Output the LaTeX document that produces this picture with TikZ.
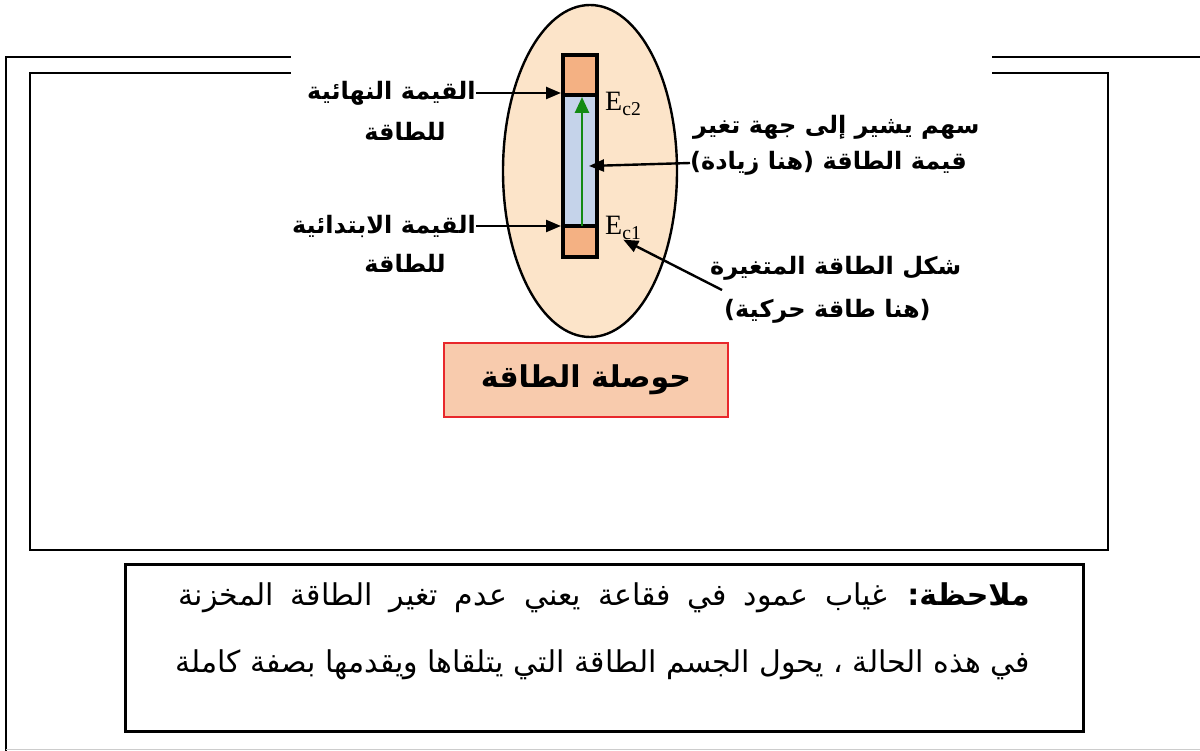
\documentclass[tikz,border=0pt]{standalone}
\usepackage{fontspec}
\setmainfont{Liberation Serif}
\newfontfamily\ar[Script=Arabic]{DejaVu Sans}
\TeXXeTstate=1
\usetikzlibrary{arrows.meta,shapes.geometric}
\definecolor{peach}{HTML}{FCE4C9}
\definecolor{barorange}{HTML}{F4B183}
\definecolor{barblue}{HTML}{C5D3EA}
\definecolor{darrow}{HTML}{138A13}
\definecolor{sumfill}{HTML}{F8CBAD}
\definecolor{sumred}{HTML}{E8282C}
\tikzset{
  frame/.style={line width=2.8pt, line cap=rect},
  lab/.style={font=\ar\bfseries\fontsize{24}{28}\selectfont, inner sep=0pt},
  notetxt/.style={font=\ar\fontsize{30}{34}\selectfont, inner sep=0pt, anchor=east},
  barpart/.style={draw=black, line width=4pt, minimum width=34pt, inner sep=0pt},
  blk/.style={line width=2.4pt, -{Triangle[length=15pt,width=12pt]}},
  elab/.style={font=\fontsize{28}{32}\selectfont, inner sep=0pt}
}
\begin{document}
\begin{tikzpicture}[x=1pt,y=-1pt]
\useasboundingbox (0,0) rectangle (1200,751);
% frames
\draw[frame] (290,57) -- (6,57) -- (6,760);
\draw[frame] (993,57) -- (1210,57);
\draw[frame] (290,73) -- (30,73) -- (30,550) -- (1108,550) -- (1108,73) -- (993,73);
\draw[gray!40, line width=1pt] (6,749) -- (1200,749);
% ellipse
\node[ellipse, draw=black, line width=2.4pt, fill=peach, minimum width=174pt, minimum height=332pt, inner sep=0pt] (ell) at (590,171) {};
% bar
\node[barpart, fill=barorange, minimum height=40pt] (bt) at (580,75) {};
\node[barpart, fill=barblue, minimum height=132pt] (bm) at (580,161) {};
\node[barpart, fill=barorange, minimum height=31pt] (bb) at (580,242) {};
\draw[line width=2.6pt, darrow, -{Triangle[length=16pt,width=14pt]}] (582,226) -- (582,97);
% E labels
\node[elab, anchor=west] (ec2) at (605,104) {E\textsubscript{c2}};
\node[elab, anchor=west] (ec1) at (605,228) {E\textsubscript{c1}};
% left labels
\node[lab, anchor=east] (l1) at (476,93) {\beginR القيمة النهائية\endR};
\node[lab] (l1b) at (405,131) {\beginR للطاقة\endR};
\node[lab, anchor=east] (l2) at (476,226) {\beginR القيمة الابتدائية\endR};
\node[lab] (l2b) at (405,263) {\beginR للطاقة\endR};
\draw[blk] (l1.east) -- (l1.east -| bt.west);
\draw[blk] (l2.east) -- (l2.east -| bb.west);
% right labels
\node[lab, anchor=west] (r1) at (693,127) {\beginR سهم يشير إلى جهة تغير\endR};
\node[lab, anchor=west] (r2) at (690,163) {\beginR قيمة الطاقة (هنا زيادة)\endR};
\coordinate (ptr) at (589,166);
\draw[blk] (r2.west) -- (ptr);
\node[lab, anchor=west] (s1) at (710,268) {\beginR شكل الطاقة المتغيرة\endR};
\node[lab, anchor=west] (s2) at (724,311) {\beginR (هنا طاقة حركية)\endR};
\coordinate (stail) at (722,290);
\draw[blk] (stail) -- (ec1.south);
% summary box
\node[draw=sumred, line width=2.4pt, fill=sumfill, minimum width=284pt, minimum height=74pt, font=\ar\bfseries\fontsize{30}{34}\selectfont] (sum) at (586,380) {\beginR حوصلة الطاقة\endR};
% note box
\node[draw=black, line width=3pt, minimum width=958pt, minimum height=167pt] (note) at (604,648) {};
\node[notetxt] (n1) at (1030,598) {\spaceskip=17pt plus 2pt\beginR{\bfseries ملاحظة:} غياب عمود في فقاعة يعني عدم تغير الطاقة المخزنة\endR};
\node[notetxt] (n2) at (1030,665) {\beginR في هذه الحالة ، يحول الجسم الطاقة التي يتلقاها ويقدمها بصفة كاملة\endR};
\end{tikzpicture}
\end{document}
